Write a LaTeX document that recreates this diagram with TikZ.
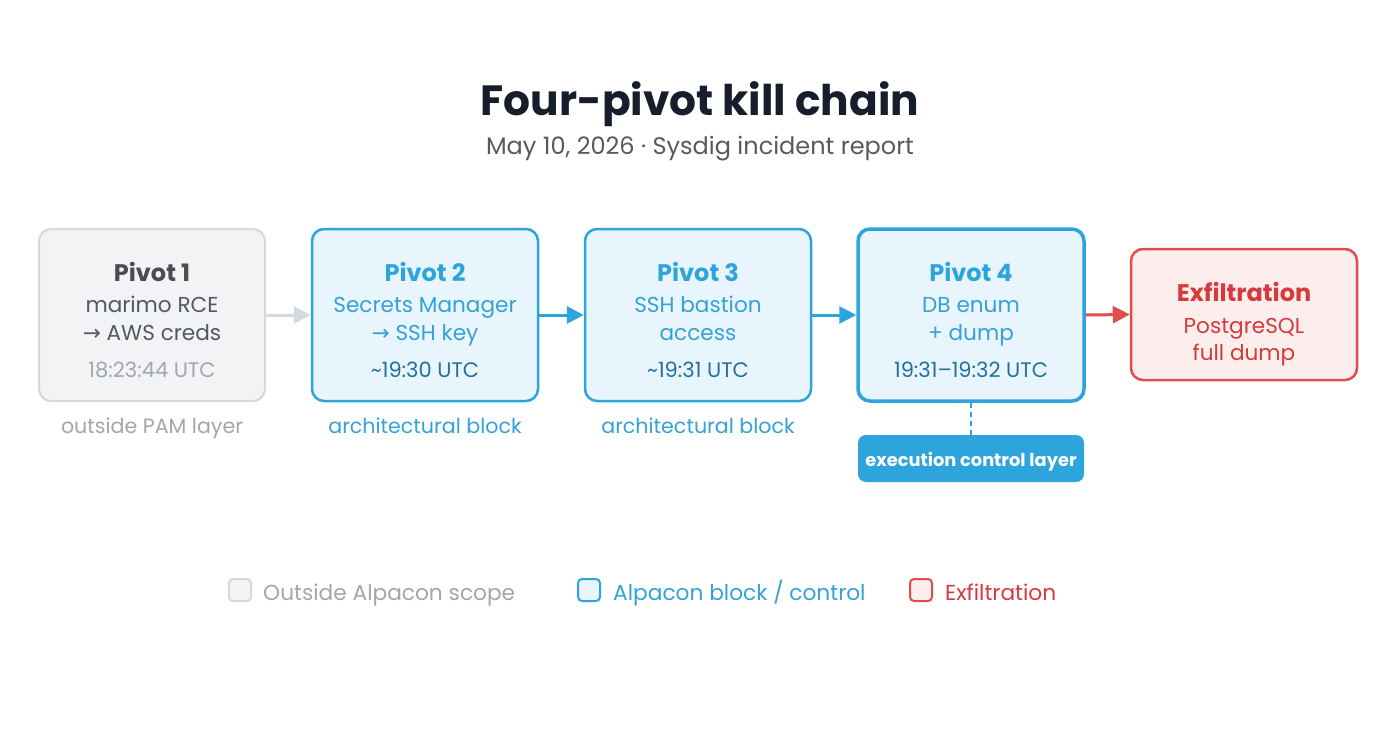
\documentclass[tikz,border=0pt]{standalone}
\usepackage{fontspec}
\setmainfont{Poppins}
\newfontfamily\arrowfont{DejaVu Sans}
\usetikzlibrary{arrows.meta}
\definecolor{grayfill}{HTML}{F1F3F5}
\definecolor{grayline}{HTML}{D5D8DC}
\definecolor{graytext}{HTML}{A3A6AA}
\definecolor{graydark}{HTML}{4A4C50}
\definecolor{graymid}{HTML}{55585D}
\definecolor{bluefill}{HTML}{E8F5FC}
\definecolor{blueline}{HTML}{2EA4DD}
\definecolor{bluetext}{HTML}{35A2D5}
\definecolor{bluedark}{HTML}{22709F}
\definecolor{redfill}{HTML}{FDEEEE}
\definecolor{redline}{HTML}{E14C4C}
\definecolor{redtext}{HTML}{D63A3A}
\definecolor{titlec}{HTML}{161D2B}
\definecolor{subc}{HTML}{565A60}
\newcommand{\arr}{{\arrowfont →}}
\begin{document}
\begin{tikzpicture}[x=1pt,y=-1pt,
  pbox/.style={rectangle, rounded corners=12pt, minimum width=226pt, minimum height=172pt, inner sep=0pt},
  graybox/.style={pbox, fill=grayfill, draw=grayline, line width=2pt},
  bluebox/.style={pbox, fill=bluefill, draw=blueline, line width=2.5pt},
  redbox/.style={pbox, fill=redfill, draw=redline, line width=2.5pt, minimum height=131pt},
  txt/.style={anchor=base, inner sep=0pt},
  hdtxt/.style={txt, font=\fontsize{24}{28}\bfseries\selectfont},
  bdtxt/.style={txt, font=\fontsize{21.6}{25}\selectfont},
  tmtxt/.style={txt, font=\fontsize{21}{25}\selectfont},
  captxt/.style={txt, font=\fontsize{20.6}{24}\selectfont},
  tiparrow/.style={-{Triangle[length=17pt,width=17pt]}, line width=3pt},
  legbox/.style={rectangle, rounded corners=4pt, minimum size=22pt, inner sep=0pt, line width=2pt},
  legtxt/.style={anchor=base west, inner sep=0pt, font=\fontsize{21.7}{25}\selectfont}]
\useasboundingbox (0,0) rectangle (1400,733);
\fill[white] (0,0) rectangle (1400,733);

% title
\node[txt, text=titlec, font=\fontsize{42.3}{50}\bfseries\selectfont] (title) at (700,116) {Four-pivot kill chain};
\node[txt, text=subc, font=\fontsize{24}{28}\selectfont] (sub) at (700,154) {May 10, 2026 · Sysdig incident report};

% boxes
\node[graybox] (p1) at (152,315) {};
\node[bluebox] (p2) at (425,315) {};
\node[bluebox] (p3) at (698,315) {};
\node[bluebox, line width=3.5pt] (p4) at (971,315) {};
\node[redbox] (ex) at (1244,314.5) {};

% pivot 1
\node[hdtxt, text=graydark] (p1a) at (152,281) {Pivot 1};
\node[bdtxt, text=graymid] (p1b) at (152,312) {marimo RCE};
\node[bdtxt, text=graymid] (p1c) at (152,340) {\arr\ AWS creds};
\node[tmtxt, text=graytext] (p1d) at (152,377) {18:23:44 UTC};
\node[captxt, text=graytext] (p1e) at (152,433) {outside PAM layer};

% pivot 2
\node[hdtxt, text=blueline] (p2a) at (425,281) {Pivot 2};
\node[bdtxt, text=bluetext] (p2b) at (425,312) {Secrets Manager};
\node[bdtxt, text=bluetext] (p2c) at (425,340) {\arr\ SSH key};
\node[tmtxt, text=bluedark] (p2d) at (425,377) {\char`\~19:30 UTC};
\node[captxt, text=bluetext] (p2e) at (425,433) {architectural block};

% pivot 3
\node[hdtxt, text=blueline] (p3a) at (698,281) {Pivot 3};
\node[bdtxt, text=bluetext] (p3b) at (698,312) {SSH bastion};
\node[bdtxt, text=bluetext] (p3c) at (698,340) {access};
\node[tmtxt, text=bluedark] (p3d) at (698,377) {\char`\~19:31 UTC};
\node[captxt, text=bluetext] (p3e) at (698,433) {architectural block};

% pivot 4
\node[hdtxt, text=blueline] (p4a) at (971,281) {Pivot 4};
\node[bdtxt, text=bluetext] (p4b) at (971,312) {DB enum};
\node[bdtxt, text=bluetext] (p4c) at (971,340) {+ dump};
\node[tmtxt, text=bluedark] (p4d) at (971,377) {19:31–19:32 UTC};

% exfiltration
\node[hdtxt, text=redtext] (exa) at (1244,301) {Exfiltration};
\node[bdtxt, text=redtext] (exb) at (1244,333) {PostgreSQL};
\node[bdtxt, text=redtext] (exc) at (1244,360) {full dump};

% execution control layer
\node[rectangle, rounded corners=8pt, fill=blueline, minimum width=226pt, minimum height=47pt, inner sep=0pt,
      text=white, font=\fontsize{17.8}{21}\bfseries\selectfont] (ecl) at (971,458.5) {\raisebox{-3pt}[\height][\depth]{execution control layer}};
\draw[blueline, line width=2pt, dash pattern=on 5pt off 4pt] (p4.south) -- (ecl.north);

% arrows
\draw[tiparrow, grayline] (p1.east) -- (p2.west);
\draw[tiparrow, blueline] (p2.east) -- (p3.west);
\draw[tiparrow, blueline] (p3.east) -- (p4.west);
\draw[tiparrow, redline] (p4.east) -- (ex.west);

% legend
\node[legbox, fill=grayfill, draw=grayline] (l1) at (240,590) {};
\node[legtxt, text=graytext] (l1t) at (263,600) {Outside Alpacon scope};
\node[legbox, fill=bluefill, draw=blueline] (l2) at (589,590) {};
\node[legtxt, text=bluetext] (l2t) at (613,600) {Alpacon block / control};
\node[legbox, fill=redfill, draw=redline] (l3) at (921,590) {};
\node[legtxt, text=redtext] (l3t) at (945,600) {Exfiltration};
\end{tikzpicture}
\end{document}
